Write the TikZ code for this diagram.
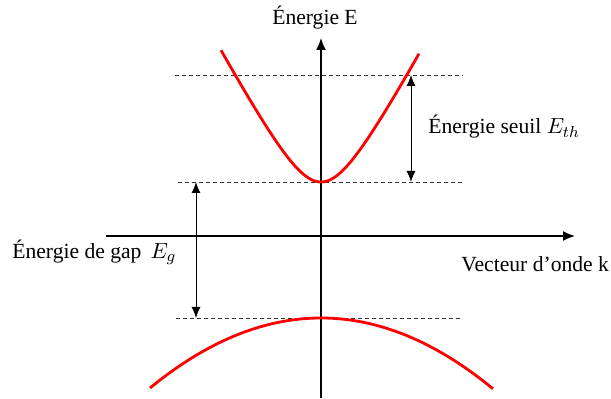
\documentclass[tikz,border=0pt]{standalone}
\usepackage{fontspec}
\setmainfont{Liberation Serif}
\usetikzlibrary{arrows.meta}
\begin{document}
\begin{tikzpicture}[x=0.5pt,y=-0.5pt,
  axis/.style={line width=0.8pt,-{Latex[length=6pt,width=5pt]}},
  guide/.style={line width=0.4pt,dashed,dash pattern=on 2pt off 1.5pt,black!80},
  band/.style={red,line width=1.4pt},
  dim/.style={line width=0.5pt,{Latex[length=5.5pt,width=4.5pt]}-{Latex[length=5.5pt,width=4.5pt]}},
  lbl/.style={font=\fontsize{10.8}{13}\selectfont,inner sep=0pt}]
\useasboundingbox (0,0) rectangle (611,399);
% coordinates
\coordinate (vb) at (321,398);
\coordinate (vt) at (321,38);
\coordinate (hl) at (106,236);
\coordinate (hr) at (575,236);
\coordinate (d1l) at (175,75);  \coordinate (d1r) at (463,75);
\coordinate (d2l) at (178,182); \coordinate (d2r) at (463,182);
\coordinate (d3l) at (176,318); \coordinate (d3r) at (463,318);
\coordinate (a1t) at (411,75);  \coordinate (a1b) at (411,182);
\coordinate (a2t) at (196,182); \coordinate (a2b) at (196,318);
% dashed guides
\draw[guide] (d1l) -- (d1r);
\draw[guide] (d2l) -- (d2r);
\draw[guide] (d3l) -- (d3r);
% axes
\draw[axis] (vb) -- (vt);
\draw[axis] (hl) -- (hr);
% bands
\draw[band] plot[domain=-100:98,samples=100,smooth] ({321+\x},{182-65*(sqrt(1+(\x/35)^2)-1)});
\draw[band] plot[domain=-171:172,samples=100,smooth] ({321+\x},{318+70*(\x/171)^2});
% dimension arrows
\draw[dim] (a1t) -- (a1b);
\draw[dim] (a2t) -- (a2b);
% labels
\node[lbl] (lE) at (315,18) {Énergie E};
\node[lbl,anchor=west] (lth) at (428,127) {Énergie seuil $E_{th}$};
\node[lbl,anchor=west] (lg) at (12,252) {Énergie de gap\, $E_g$};
\node[lbl,anchor=west] (lk) at (461,264) {Vecteur d’onde k};
\end{tikzpicture}
\end{document}
